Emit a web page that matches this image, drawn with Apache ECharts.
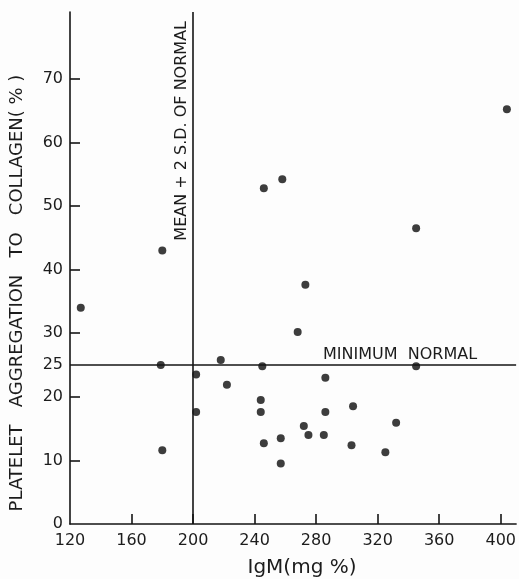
<!DOCTYPE html>
<html>
<head>
<meta charset="utf-8">
<script src="https://cdn.jsdelivr.net/npm/echarts@6/dist/echarts.min.js"></script>
<style>
html,body{margin:0;padding:0;background:#fdfdfd;}
#chart{width:519px;height:579px;}
</style>
</head>
<body>
<div id="chart"></div>
<script>
// Data
const igm = [127, 180, 179, 180, 202, 202, 218, 222, 245, 244, 244, 246, 246, 258, 257, 257, 268, 273, 272, 275, 285, 286, 286, 303, 304, 325, 332, 345, 345, 404];
const aggregation = [34.0, 43.0, 25.0, 11.6, 23.5, 17.6, 25.8, 21.9, 24.8, 19.5, 17.6, 12.7, 52.8, 54.2, 13.5, 9.5, 30.2, 37.6, 15.4, 14.0, 14.0, 23.0, 17.6, 12.4, 18.5, 11.3, 15.9, 24.8, 46.5, 65.2];
const xTickLabels = [120, 160, 200, 240, 280, 320, 360, 400];
const xTickMarks = [160, 200, 240, 280, 320, 360, 400];
const yTickLabels = [0, 10, 20, 25, 30, 40, 50, 60, 70];
const yTickMarks = [10, 20, 30, 40, 50, 60, 70];
const meanPlus2SD = 200;
const minimumNormal = 25;
const xTitle = 'IgM(mg %)';
const yTitle = 'PLATELET   AGGREGATION   TO   COLLAGEN( % )';
const vLabel = 'MEAN + 2 S.D. OF NORMAL';
const hLabel = 'MINIMUM  NORMAL';

const ink = '#151515';
const textInk = '#1c1c1c';
const font = 'DejaVu Sans';
const points = igm.map((x, i) => [x, aggregation[i]]);

const chart = echarts.init(document.getElementById('chart'), null, {renderer: 'canvas'});
chart.setOption({
  animation: false,
  backgroundColor: '#fdfdfd',
  grid: {left: 70, right: 0, top: 12, bottom: 55, containLabel: false},
  xAxis: {
    type: 'value', min: 120, max: 410, interval: 40,
    axisLine: {show: true, lineStyle: {color: ink, width: 1.6}},
    axisTick: {show: true, inside: true, length: 10, customValues: xTickMarks, lineStyle: {color: ink, width: 1.6}},
    axisLabel: {show: true, customValues: xTickLabels, margin: 9, fontSize: 16, color: textInk, fontFamily: font},
    splitLine: {show: false}
  },
  yAxis: {
    type: 'value', min: 0, max: 80.5, interval: 10,
    axisLine: {show: true, lineStyle: {color: ink, width: 1.6}},
    axisTick: {show: true, inside: true, length: 10, customValues: yTickMarks, lineStyle: {color: ink, width: 1.6}},
    axisLabel: {show: true, customValues: yTickLabels, margin: 7, fontSize: 16, color: textInk, fontFamily: font},
    splitLine: {show: false}
  },
  series: [{
    type: 'scatter',
    data: points,
    symbol: 'circle',
    symbolSize: 8,
    itemStyle: {color: '#0d0d0d'},
    silent: true,
    markLine: {
      silent: true,
      symbol: 'none',
      animation: false,
      lineStyle: {color: ink, width: 1.6, type: 'solid'},
      data: [
        {xAxis: meanPlus2SD, label: {show: true, formatter: vLabel, position: 'insideEndTop', distance: 3, padding: [0, 6, 0, 0], fontSize: 16, color: textInk, fontFamily: font}},
        {yAxis: minimumNormal, label: {show: true, formatter: hLabel, position: 'insideEndTop', distance: 2, padding: [0, 37, 0, 0], fontSize: 16, color: textInk, fontFamily: font}}
      ]
    }
  }],
  graphic: [
    {type: 'text', x: 17, y: 293, rotation: Math.PI / 2, style: {text: yTitle, fontSize: 18, fill: textInk, fontFamily: font, align: 'center', verticalAlign: 'middle'}},
    {type: 'text', x: 302, y: 568, style: {text: xTitle, fontSize: 20, fill: textInk, fontFamily: font, align: 'center', verticalAlign: 'middle'}}
  ]
});
</script>
</body>
</html>
